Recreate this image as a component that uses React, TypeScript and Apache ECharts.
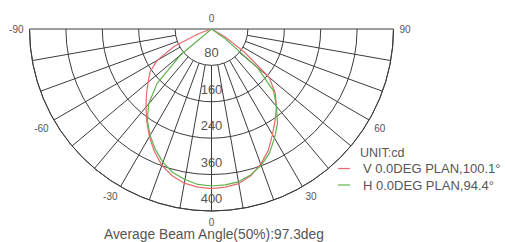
import React, { useEffect, useRef } from 'react';
import * as echarts from 'echarts';

// Angle (deg from nadir, negative = left) and intensity in cd
const ANGLES = [-90, -85, -80, -75, -70, -65, -60, -55, -50, -45, -40, -35, -30, -25, -20, -15, -10, -5, 0,
  5, 10, 15, 20, 25, 30, 35, 40, 45, 50, 55, 60, 65, 70, 75, 80, 85, 90];
const V_PLANE = [0, 0, 0, 0, 29, 90, 138, 165, 182, 202, 224, 248, 273, 297, 319, 334, 344, 349, 351,
  349, 345, 334, 316, 295, 268, 244, 222, 198, 165, 88, 33, 0, 0, 0, 0, 0, 0];
const H_PLANE = [0, 0, 0, 0, 0, 0, 0, 0, 88, 169, 215, 246, 270, 292, 312, 327, 336, 343, 345,
  344, 341, 332, 319, 301, 277, 253, 222, 193, 132, 35, 0, 0, 0, 0, 0, 0, 0];

const SERIES_NAMES = ['V 0.0DEG PLAN,100.1°', 'H 0.0DEG PLAN,94.4°'];
const SERIES_COLORS = ['#e66a72', '#5fb24c'];
const RING_LABELS = ['0', '80', '160', '240', '360', '400'];
const ANGLE_TICKS = [-90, -60, -30, 0, 30, 60, 90];
const UNIT_TEXT = 'UNIT:cd';
const FOOTER_TEXT = 'Average Beam Angle(50%):97.3deg';

export default function App() {
  const ref = useRef<HTMLDivElement>(null);

  useEffect(() => {
    document.body.style.margin = '0';
    const chart = echarts.init(ref.current as HTMLDivElement, null, { renderer: 'svg' });
    const font = '"Liberation Sans", Arial, sans-serif';
    const center = [211.5, 29];
    const R = 182;
    const innerR = (R * 80) / 400;
    const gridColor = '#3c3c3c';
    const gridLine = { show: true, lineStyle: { color: gridColor, width: 1, type: 'solid' } };

    chart.setOption({
      animation: false,
      textStyle: { fontFamily: font },
      title: [
        { text: UNIT_TEXT, left: 360, top: 146, padding: 0, textStyle: { fontSize: 12.5, fontWeight: 'normal', color: '#555', fontFamily: font } },
        { text: FOOTER_TEXT, left: 104, top: 227, padding: 0, textStyle: { fontSize: 13.8, fontWeight: 'normal', color: '#555', fontFamily: font } },
      ],
      legend: {
        orient: 'vertical',
        left: 338,
        top: 162,
        padding: 0,
        itemGap: 3.5,
        itemWidth: 12,
        itemHeight: 1.2,
        icon: 'rect',
        data: SERIES_NAMES,
        textStyle: { fontSize: 13, color: '#555', fontFamily: font, padding: [0, 0, 0, 8] },
      },
      polar: [
        { center, radius: [0, R] },
        { center, radius: [innerR, R] },
        { center, radius: [0, R] },
        { center, radius: [0, innerR] },
      ],
      angleAxis: [
        {
          polarIndex: 0, type: 'value', min: -90, max: 90, startAngle: 180, endAngle: 360, clockwise: false,
          axisLine: gridLine, axisTick: { show: false }, axisLabel: { show: false }, splitLine: { show: false },
        },
        {
          polarIndex: 1, type: 'value', min: -90, max: 90, interval: 10, startAngle: 180, endAngle: 360, clockwise: false,
          axisLine: { show: false }, axisTick: { show: false },
          axisLabel: {
            show: true, margin: 6, fontSize: 10, color: '#555', fontFamily: font,
            formatter: (v: number) => (ANGLE_TICKS.includes(v) ? String(v) : ''),
          },
          splitLine: gridLine,
        },
        {
          polarIndex: 2, type: 'value', min: 0, max: 360, startAngle: 270, show: false,
        },
        {
          polarIndex: 3, type: 'value', min: 0, max: 180, interval: 180, startAngle: 180, endAngle: 360, clockwise: false,
          axisLine: { show: false }, axisTick: { show: false }, axisLabel: { show: false }, splitLine: gridLine,
        },
      ],
      radiusAxis: [
        {
          polarIndex: 0, type: 'value', min: 0, max: 400, interval: 80,
          axisLine: { show: false }, axisTick: { show: false }, axisLabel: { show: false }, splitLine: gridLine,
        },
        { polarIndex: 1, type: 'value', min: 0, max: 400, show: false },
        {
          polarIndex: 2, type: 'value', min: 0, max: 400, interval: 80,
          axisLine: { show: false }, axisTick: { show: false }, splitLine: { show: false },
          axisLabel: {
            show: true, margin: 0, align: 'center', verticalAlign: 'bottom', padding: [0, 0, 6, 0],
            fontSize: 13, color: '#555', fontFamily: font,
            formatter: (v: number) => {
              const i = Math.round(v / 80);
              return i === 0 ? '{s|' + RING_LABELS[0] + '}' : RING_LABELS[i];
            },
            rich: { s: { fontSize: 10, color: '#555', fontFamily: font } },
          },
        },
        { polarIndex: 3, type: 'value', min: 0, max: 400, show: false },
      ],
      series: [
        {
          name: SERIES_NAMES[0], type: 'line', coordinateSystem: 'polar', polarIndex: 0,
          symbol: 'none', showSymbol: false, color: SERIES_COLORS[0],
          lineStyle: { color: SERIES_COLORS[0], width: 1.2 },
          data: ANGLES.map((a, i) => [V_PLANE[i], a]),
        },
        {
          name: SERIES_NAMES[1], type: 'line', coordinateSystem: 'polar', polarIndex: 0,
          symbol: 'none', showSymbol: false, color: SERIES_COLORS[1],
          lineStyle: { color: SERIES_COLORS[1], width: 1.2 },
          data: ANGLES.map((a, i) => [H_PLANE[i], a]),
        },
      ],
    });
    return () => chart.dispose();
  }, []);

  return <div ref={ref} style={{ position: 'fixed', left: 0, top: 0, width: 505, height: 242, background: '#fff' }} />;
}
